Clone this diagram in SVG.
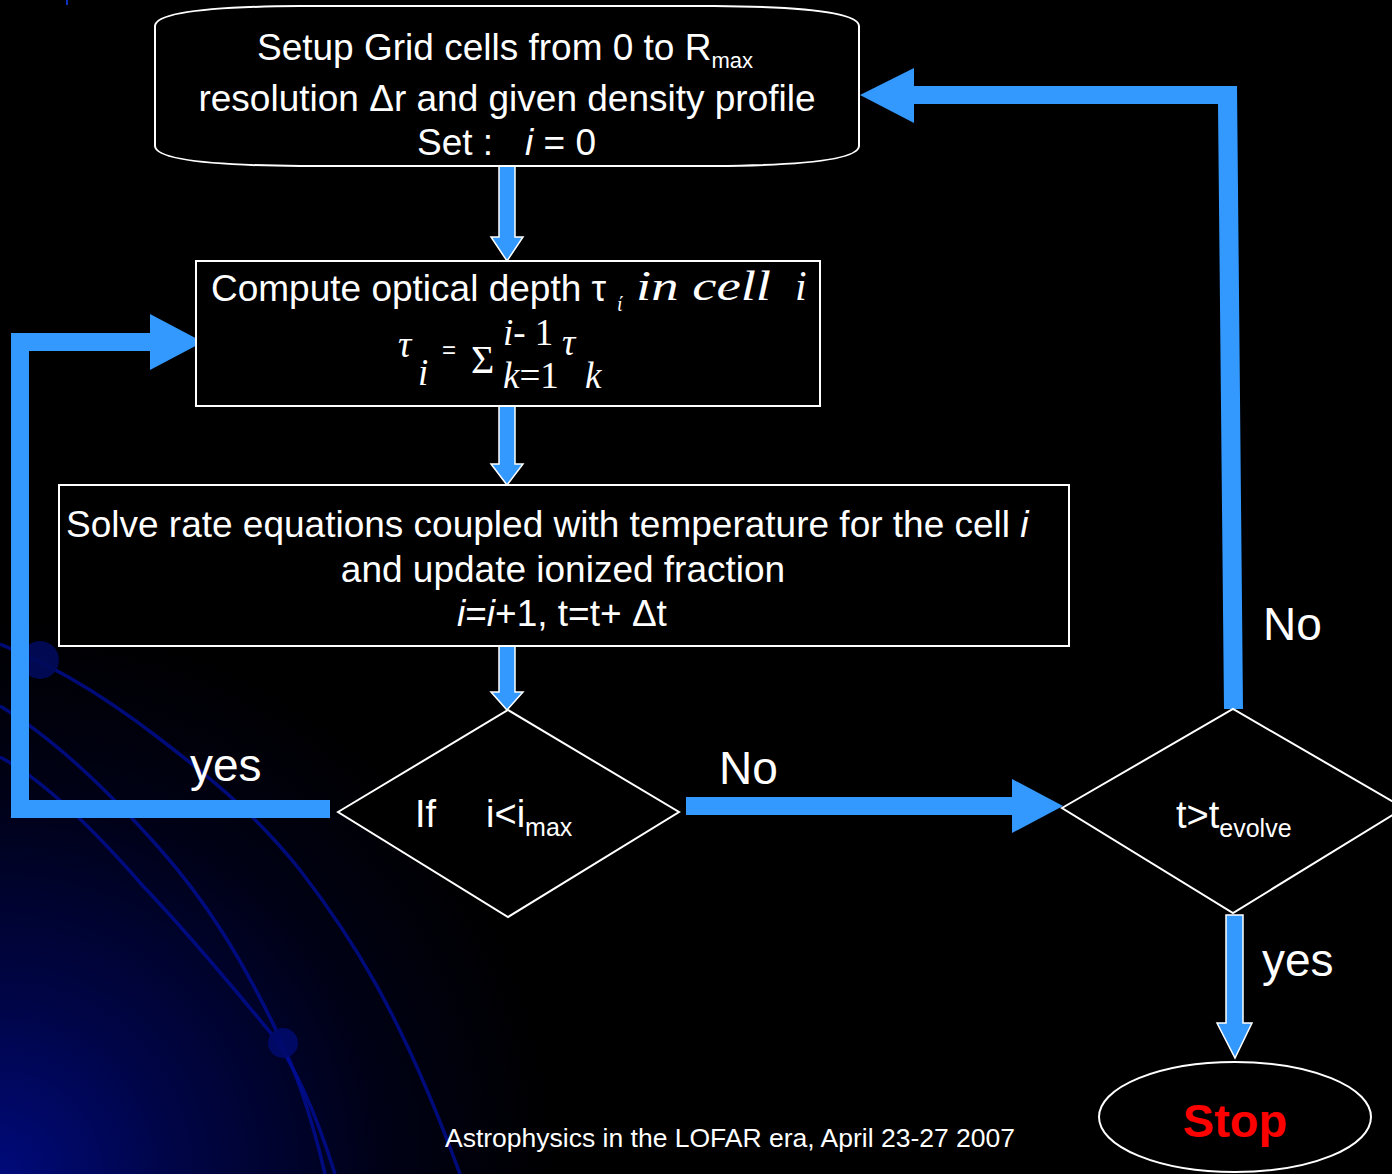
<svg xmlns="http://www.w3.org/2000/svg" width="1392" height="1174" viewBox="0 0 1392 1174">
<defs>
<radialGradient id="bg" cx="0" cy="1174" r="560" gradientUnits="userSpaceOnUse">
<stop offset="0" stop-color="#000a7a"/>
<stop offset="0.3" stop-color="#000548"/>
<stop offset="0.7" stop-color="#000114"/>
<stop offset="1" stop-color="#000000"/>
</radialGradient>
<style>
.t{font-family:"Liberation Sans",Arial,sans-serif;fill:#fff}
.m{font-family:"Liberation Serif","Times New Roman",serif;fill:#fff}
.box{fill:#000;stroke:#fff;stroke-width:2}
.arr{fill:#3399ff}
.sarr{fill:#3399ff;stroke:#fff;stroke-width:1.5}
.curve{fill:none;stroke:#000e96;stroke-width:3.5;opacity:.8}
.lbl{font-family:"Liberation Sans",Arial,sans-serif;fill:#fff;font-size:46px}
</style>
</defs>
<rect width="1392" height="1174" fill="#000"/>
<rect width="1392" height="1174" fill="url(#bg)"/>
<g id="background">
<path class="curve" d="M0,644 C40,660 90,685 160,739 C220,785 260,820 300,870 C350,935 400,1010 460,1174"/>
<path class="curve" d="M0,706 C40,730 90,770 160,849 C205,900 240,955 277,1032 C295,1070 310,1110 325,1174"/>
<path class="curve" d="M0,757 C40,778 90,825 143,886 C190,935 235,990 270,1032 C295,1065 315,1110 335,1174"/>
<circle cx="40" cy="660" r="19" fill="#000a5a" opacity=".9"/>
<circle cx="283" cy="1043" r="15" fill="#000a6a" opacity=".9"/>
<line x1="67" y1="0" x2="67" y2="5" stroke="#1030c0" stroke-width="2"/>
</g>
<g id="connectors">
<polygon class="sarr" points="499,166 515,166 515,237 523,237 507,261 491,237 499,237"/>
<polygon class="sarr" points="499,406 515,406 515,464 523,464 507,485 491,464 499,464"/>
<polygon class="sarr" points="499,646 515,646 515,692 523,692 507,710 491,692 499,692"/>
<polygon class="arr" points="330,800 29,800 29,351 150,351 150,370 203,342 150,314 150,333 11,333 11,818 330,818"/>
<polygon class="arr" points="686,797 1012,797 1012,779 1063,806 1012,833 1012,815 686,815"/>
<polygon class="arr" points="1224,709 1243,709 1237,86 914,86 914,68 860,95 914,123 914,104 1218,104"/>
<polygon class="sarr" points="1226,915 1243,915 1243,1023 1252,1023 1235,1058 1217,1023 1226,1023"/>
<text class="lbl" x="190" y="781">yes</text>
<text class="lbl" x="719" y="784">No</text>
<text class="lbl" x="1263" y="640">No</text>
<text class="lbl" x="1262" y="976">yes</text>
</g>
<g id="setup">
<path class="box" d="M155,26 Q156,7 300,6 L714,6 Q858,7 859,26 L859,146 Q858,165 714,166 L300,166 Q156,165 155,146 Z"/>
<text class="t" font-size="37" x="257" y="60">Setup Grid cells from 0 to R<tspan font-size="22" dy="8">max</tspan></text>
<text class="t" font-size="37" x="507" y="111" text-anchor="middle">resolution Δr and given density profile</text>
<text class="t" font-size="37" x="417" y="155">Set :<tspan x="525" font-style="italic">i</tspan> = 0</text>
</g>
<g id="compute">
<rect class="box" x="196" y="261" width="624" height="145"/>
<text class="t" font-size="37" x="211" y="301">Compute optical depth τ</text>
<text class="m" font-size="20" font-style="italic" x="617" y="311">ί</text>
<text class="m" font-size="42" font-style="italic" x="636" y="300" textLength="135" lengthAdjust="spacingAndGlyphs">in cell</text>
<text class="m" font-size="42" font-style="italic" x="795" y="300">i</text>
<text class="m" font-size="37" font-style="italic" x="398" y="357">τ</text>
<text class="m" font-size="37" font-style="italic" x="418" y="385">i</text>
<text class="t" font-size="24" x="442" y="358">=</text>
<text class="m" font-size="40" x="471" y="373">Σ</text>
<text class="m" font-size="37" x="503" y="345"><tspan font-style="italic">i</tspan>- 1</text>
<text class="m" font-size="37" x="503" y="388"><tspan font-style="italic">k</tspan>=1</text>
<text class="m" font-size="37" font-style="italic" x="562" y="355">τ</text>
<text class="m" font-size="37" font-style="italic" x="585" y="388">k</text>
</g>
<g id="solve">
<rect class="box" x="59" y="485" width="1010" height="161"/>
<text class="t" font-size="37" x="66" y="537">Solve rate equations coupled with temperature for the cell <tspan font-style="italic">i</tspan></text>
<text class="t" font-size="37" x="563" y="582" text-anchor="middle">and update ionized fraction</text>
<text class="t" font-size="37" x="457" y="626"><tspan font-style="italic">i</tspan>=<tspan font-style="italic">i</tspan>+1, t=t+ Δt</text>
</g>
<g id="check-i">
<polygon class="box" points="338,812 508,710 679,812 508,917"/>
<text class="t" font-size="38" x="415" y="827">If</text>
<text class="t" font-size="38" x="486" y="827">i&lt;i<tspan font-size="25" dy="9">max</tspan></text>
</g>
<g id="check-t">
<polygon class="box" points="1062,808 1233,709 1404,808 1233,913"/>
<text class="t" font-size="38" x="1176" y="828">t&gt;t<tspan font-size="25" dy="9">evolve</tspan></text>
</g>
<g id="stop">
<ellipse class="box" cx="1235" cy="1117" rx="136" ry="55"/>
<text x="1235" y="1137" text-anchor="middle" font-family="Liberation Sans,Arial,sans-serif" font-weight="bold" font-size="47" fill="#ff0000">Stop</text>
</g>
<text class="t" font-size="26.5" x="445" y="1147">Astrophysics in the LOFAR era, April 23-27 2007</text>
</svg>
